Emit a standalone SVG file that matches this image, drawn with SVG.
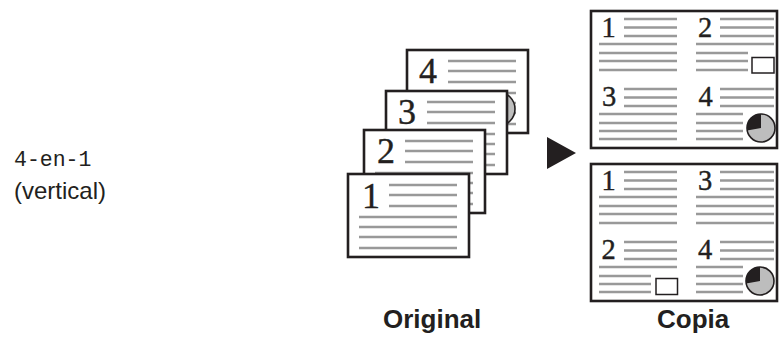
<svg xmlns="http://www.w3.org/2000/svg" xmlns:xlink="http://www.w3.org/1999/xlink" width="779" height="347" viewBox="0 0 779 347">
<style>
.frame{fill:#fff;stroke:#231f20;stroke-width:2.6}
.ln{stroke:#999;stroke-width:2.4;fill:none}
.dg{font-family:"Liberation Serif","DejaVu Serif",serif;fill:#231f20;stroke:#231f20;stroke-width:0.4;text-anchor:middle}
.pd{font-size:36px}
.cd{font-size:28.5px}
.pie{fill:#bdbdbd;stroke:#231f20;stroke-width:1.6}
.wedge{fill:#231f20}
.box{fill:#fff;stroke:#231f20;stroke-width:1.5}
.lbl{font-family:"Liberation Sans",Arial,sans-serif;fill:#231f20}
</style>
<defs>
<g id="page">
<rect class="frame" x="0" y="0" width="121" height="83"/>
<path class="ln" d="M41,11H109M41,21H109M41,32H109M11,43H109M11,53H109M11,63H109M11,74H109"/>
</g>
</defs>

<g id="label">
<text class="lbl" x="14" y="166" style="font-family:'Liberation Mono','Courier New',monospace;font-size:21.5px">4-en-1</text>
<text class="lbl" x="14" y="199" style="font-size:24px">(vertical)</text>
</g>

<g id="original">
<g id="page4" transform="translate(407,50)">
<use xlink:href="#page"/>
<circle class="pie" cx="91" cy="59" r="17"/>
<text class="dg pd" x="21" y="33">4</text>
</g>
<g id="page3" transform="translate(386,91)">
<use xlink:href="#page"/>
<text class="dg pd" x="21" y="33">3</text>
</g>
<g id="page2" transform="translate(364,130)">
<rect x="84" y="53" width="25" height="20" fill="#bbb" stroke="#231f20" stroke-width="1.5"/>
<use xlink:href="#page"/>
<text class="dg pd" x="22" y="33">2</text>
</g>
<g id="page1" transform="translate(348,174)">
<use xlink:href="#page"/>
<text class="dg pd" x="23" y="34">1</text>
</g>
</g>

<g id="connectors">
<polygon points="547,137 576,153 547,169" fill="#231f20"/>
</g>

<g id="copy-top">
<rect class="frame" x="591" y="11" width="186" height="137"/>
<text class="dg cd" x="608.5" y="37">1</text>
<text class="dg cd" x="705" y="37">2</text>
<text class="dg cd" x="609" y="106">3</text>
<text class="dg cd" x="705.5" y="106">4</text>
<path class="ln" d="M624,19H677M624,27.5H677M624,36H677M599,44H677M599,53H677M599,61H677M599,70H677"/>
<path class="ln" d="M720,19H774M720,27.5H774M720,36H774M696,44H774M696,53H748M696,61H748M696,70H748"/>
<path class="ln" d="M624,89H677M624,97.5H677M624,106H677M599,114H677M599,123H677M599,131H677M599,139H677"/>
<path class="ln" d="M720,89H774M720,97.5H774M720,106H774M696,114H743M696,123H743M696,131H743M696,139H743"/>
<rect class="box" x="752" y="57.5" width="22" height="15.5"/>
<circle class="pie" cx="761" cy="128" r="14"/>
<path class="wedge" d="M761,128L761,114A14,14 0 0 0 747.2,130.4Z"/>
</g>

<g id="copy-bottom">
<rect class="frame" x="591" y="164" width="186" height="137"/>
<text class="dg cd" x="608.5" y="190">1</text>
<text class="dg cd" x="705" y="190">3</text>
<text class="dg cd" x="608.5" y="259">2</text>
<text class="dg cd" x="705" y="259">4</text>
<path class="ln" d="M624,172H677M624,180.5H677M624,189H677M599,197H677M599,206H677M599,214H677M599,223H677"/>
<path class="ln" d="M720,172H774M720,180.5H774M720,189H774M696,197H774M696,206H774M696,214H774M696,223H774"/>
<path class="ln" d="M624,242H677M624,250.5H677M624,259H677M599,267H677M599,276H651M599,284H651M599,292H651"/>
<path class="ln" d="M720,242H774M720,250.5H774M720,259H774M696,267H743M696,276H743M696,284H743M696,292H743"/>
<rect class="box" x="656" y="278.5" width="21.5" height="16"/>
<circle class="pie" cx="760" cy="281" r="14"/>
<path class="wedge" d="M760,281L760,267A14,14 0 0 0 746.2,283.4Z"/>
</g>

<g id="captions">
<text class="lbl" x="383" y="328" style="font-size:26px;font-weight:bold">Original</text>
<text class="lbl" x="657" y="328" style="font-size:26px;font-weight:bold">Copia</text>
</g>
</svg>
